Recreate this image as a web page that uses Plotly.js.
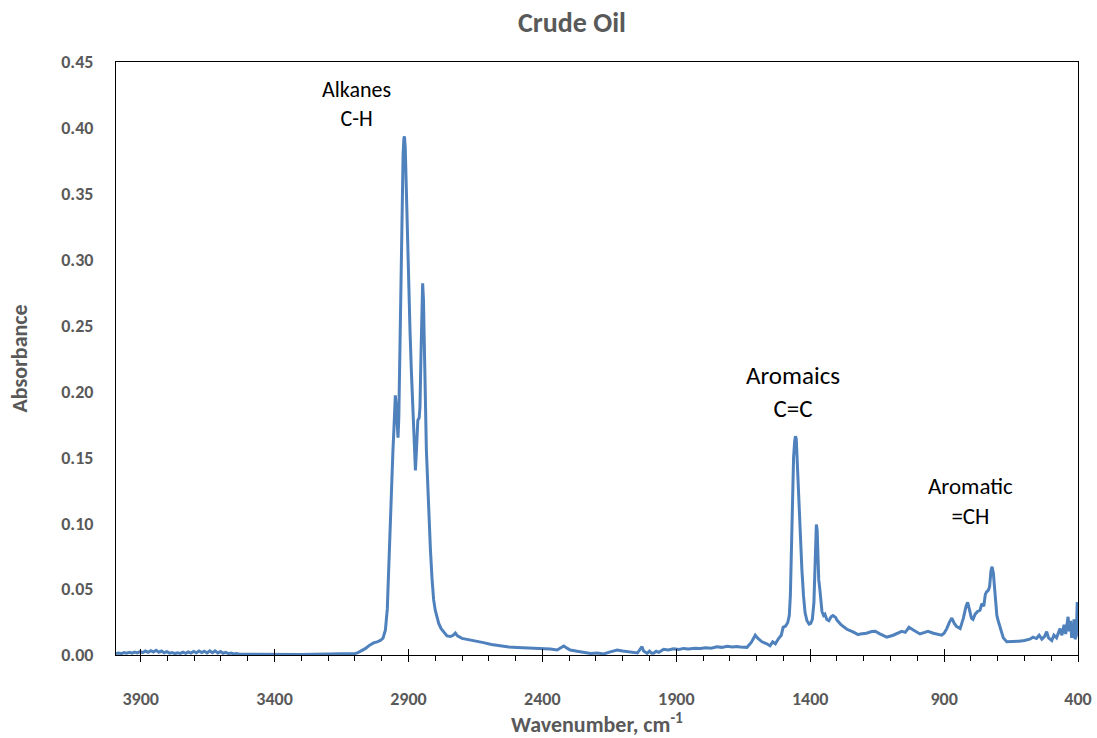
<!DOCTYPE html>
<html>
<head>
<meta charset="utf-8">
<script src="https://cdn.plot.ly/plotly-3.0.1.min.js"></script>
<style>html,body{margin:0;padding:0;background:#fff;}#chart{width:1097px;height:738px;}</style>
</head>
<body>
<div id="chart"></div>
<script>
// Wavenumber (cm-1) and absorbance
const wavenumber = [
3992,3982,3972,3962,3952,3942,3932,3922,3912,3902,3892,3882,3872,3862,3852,3842,3832,3822,3812,3802,
3792,3782,3772,3762,3752,3742,3732,3722,3712,3702,3692,3682,3672,3662,3652,3642,3632,3622,3612,3602,
3592,3582,3572,3562,3552,3542,3530,3500,3450,3400,3350,3300,3250,3200,3150,3120,3100,3090,3075,3060,
3045,3030,3017,3005,2995,2986,2979,2974,2968,2963,2958,2955,2952,2949,2946,2942,2939,2936,2932,2928,
2924,2920,2917,2915,2912,2908,2904,2899,2894,2889,2884,2880,2877,2874,2871,2868,2865,2860,2857,2853,
2850,2847,2844,2841,2837,2833,2830,2825,2818,2812,2806,2800,2793,2787,2778,2769,2756,2743,2733,2725,
2717,2700,2685,2669,2645,2620,2590,2557,2525,2494,2460,2430,2395,2370,2345,2333,2320,2308,2296,2270,
2246,2220,2195,2171,2150,2121,2100,2080,2059,2045,2036,2028,2022,2015,2009,2000,1993,1985,1975,1965,
1947,1930,1910,1890,1873,1855,1830,1810,1790,1770,1748,1730,1710,1690,1675,1661,1636,1620,1605,1595,
1580,1562,1550,1540,1530,1518,1508,1501,1492,1484,1478,1474,1470,1466,1462,1458,1455,1452,1448,1444,
1439,1431,1425,1419,1412,1404,1398,1392,1386,1381,1377,1374,1371,1368,1364,1360,1356,1350,1345,1338,
1330,1322,1315,1305,1300,1285,1263,1240,1221,1213,1190,1170,1157,1140,1114,1090,1070,1058,1045,1031,
1015,990,975,960,940,925,909,900,890,880,871,862,853,840,828,818,812,806,798,792,
784,775,766,759,752,746,741,735,730,725,721,716,712,708,703,698,694,686,679,666,
640,620,600,591,580,568,555,545,535,525,517,510,498,490,480,470,467,460,452,446,
441,437,433,428,424,419,415,411,406,403,400
];
const absorbance = [
0.0012,0.0015,0.0010,0.0018,0.0013,0.0020,0.0014,0.0022,0.0016,0.0026,0.0018,0.0030,0.0020,0.0033,0.0022,0.0036,0.0021,0.0030,0.0017,0.0025,
0.0014,0.0019,0.0011,0.0016,0.0012,0.0021,0.0013,0.0024,0.0015,0.0027,0.0017,0.0030,0.0018,0.0029,0.0016,0.0032,0.0017,0.0031,0.0015,0.0026,
0.0013,0.0020,0.0010,0.0015,0.0008,0.0011,0.0006,0.0005,0.0004,0.0004,0.0003,0.0004,0.0005,0.0006,0.0008,0.0010,0.0012,0.0016,0.0030,0.0050,
0.0075,0.0092,0.0100,0.0110,0.0128,0.0190,0.0350,0.0670,0.1000,0.1300,0.1550,0.1680,0.1850,0.1970,0.1900,0.1720,0.1650,0.1800,0.2300,0.2900,
0.3450,0.3800,0.3920,0.3935,0.3850,0.3500,0.3150,0.2790,0.2450,0.2150,0.1850,0.1600,0.1450,0.1400,0.1520,0.1720,0.1780,0.1800,0.1880,0.2300,
0.2700,0.2820,0.2700,0.2300,0.1780,0.1550,0.1400,0.1100,0.0800,0.0580,0.0420,0.0340,0.0290,0.0240,0.0200,0.0177,0.0145,0.0140,0.0150,0.0167,
0.0145,0.0126,0.0120,0.0119,0.0105,0.0094,0.0080,0.0068,0.0060,0.0056,0.0054,0.0052,0.0050,0.0045,0.0038,0.0052,0.0068,0.0052,0.0038,0.0028,
0.0018,0.0012,0.0015,0.0008,0.0022,0.0038,0.0030,0.0024,0.0018,0.0015,0.0040,0.0063,0.0030,0.0018,0.0013,0.0030,0.0015,0.0013,0.0028,0.0020,
0.0043,0.0038,0.0048,0.0042,0.0050,0.0046,0.0052,0.0050,0.0055,0.0052,0.0063,0.0058,0.0066,0.0060,0.0065,0.0060,0.0058,0.0095,0.0150,0.0125,
0.0100,0.0085,0.0070,0.0100,0.0085,0.0125,0.0150,0.0210,0.0220,0.0245,0.0300,0.0450,0.0800,0.1200,0.1500,0.1620,0.1660,0.1640,0.1450,0.1200,
0.0950,0.0650,0.0450,0.0320,0.0260,0.0235,0.0240,0.0270,0.0400,0.0750,0.0990,0.0950,0.0700,0.0570,0.0500,0.0380,0.0330,0.0300,0.0310,0.0270,
0.0260,0.0290,0.0300,0.0285,0.0265,0.0230,0.0195,0.0175,0.0155,0.0160,0.0165,0.0178,0.0180,0.0160,0.0135,0.0150,0.0165,0.0180,0.0172,0.0210,
0.0190,0.0160,0.0170,0.0180,0.0165,0.0155,0.0150,0.0165,0.0200,0.0250,0.0280,0.0240,0.0215,0.0200,0.0280,0.0370,0.0400,0.0350,0.0280,0.0270,
0.0310,0.0330,0.0340,0.0390,0.0370,0.0460,0.0480,0.0490,0.0520,0.0640,0.0670,0.0620,0.0500,0.0420,0.0300,0.0260,0.0230,0.0170,0.0130,0.0100,
0.0100,0.0105,0.0110,0.0112,0.0120,0.0135,0.0125,0.0150,0.0120,0.0140,0.0177,0.0130,0.0110,0.0150,0.0130,0.0185,0.0200,0.0150,0.0230,0.0160,
0.0240,0.0290,0.0180,0.0260,0.0140,0.0140,0.0270,0.0120,0.0150,0.0390,0.0390
];
const xTicks = [3900,3400,2900,2400,1900,1400,900,400];
const yTicks = [0,0.05,0.10,0.15,0.20,0.25,0.30,0.35,0.40,0.45];
const labels = [
  {text:"Alkanes<br>C-H", wn:3094, a:0.4185, size:22},
  {text:"Aromaics<br>C=C", wn:1463, a:0.1996, size:25},
  {text:"Aromatic<br>=CH", wn:803, a:0.1169, size:23}
];

const FONT = "Carlito, Lato, 'Liberation Sans', sans-serif";
const GREY = "#595959";
const xRange = [3992, 400];

const traces = [
  {x: wavenumber, y: absorbance, type: "scatter", mode: "lines",
   line: {color: "#4f81bd", width: 3}, hoverinfo: "skip", showlegend: false},
  {x: wavenumber, y: absorbance, type: "scatter", mode: "lines", xaxis: "x2",
   line: {color: "rgba(0,0,0,0)", width: 0}, hoverinfo: "skip", showlegend: false}
];

const layout = {
  width: 1097, height: 738,
  paper_bgcolor: "#fff", plot_bgcolor: "#fff",
  margin: {l: 116, r: 19, t: 62, b: 83},
  font: {family: FONT, color: GREY},
  title: {text: "<b>Crude Oil</b>", x: 0.5214, xanchor: "center", xref: "container",
          y: 0.97, yanchor: "middle", yref: "container",
          font: {family: FONT, size: 28, color: GREY}},
  xaxis: {
    range: xRange, tickvals: xTicks, ticktext: xTicks.map(String),
    ticks: "outside", ticklen: 6, tickwidth: 1, tickcolor: "#000",
    minor: {dtick: 100, tick0: 400, ticks: "outside", ticklen: 5, tickwidth: 1, tickcolor: "#000"},
    showgrid: false, zeroline: false,
    showline: true, linecolor: "#000", linewidth: 1, mirror: true,
    tickfont: {family: FONT, size: 18, color: GREY, weight: "bold"},
    ticklabelstandoff: 21,
    title: {text: "<b>Wavenumber, cm<sup>-1</sup></b>", standoff: 10,
            font: {family: FONT, size: 22, color: GREY}}
  },
  xaxis2: {
    range: xRange, overlaying: "x", anchor: "y", side: "bottom",
    tickvals: xTicks, ticks: "inside", ticklen: 6, tickwidth: 1, tickcolor: "#000",
    showticklabels: false, showgrid: false, zeroline: false, showline: false
  },
  yaxis: {
    range: [0, 0.45], tickvals: yTicks, tickformat: ".2f",
    ticks: "", showgrid: false, zeroline: false,
    showline: true, linecolor: "#000", linewidth: 1, mirror: true,
    tickfont: {family: FONT, size: 18, color: GREY, weight: "bold"},
    ticklabelstandoff: 18,
    title: {text: "<b>Absorbance</b>", standoff: 27,
            font: {family: FONT, size: 22, color: GREY}}
  },
  annotations: labels.map(l => ({
    x: l.wn, y: l.a, xref: "x", yref: "y", text: l.text, showarrow: false,
    align: "center", font: {family: FONT, size: l.size, color: "#000"}
  }))
};

Plotly.newPlot("chart", traces, layout, {displayModeBar: false, staticPlot: true});
</script>
</body>
</html>
